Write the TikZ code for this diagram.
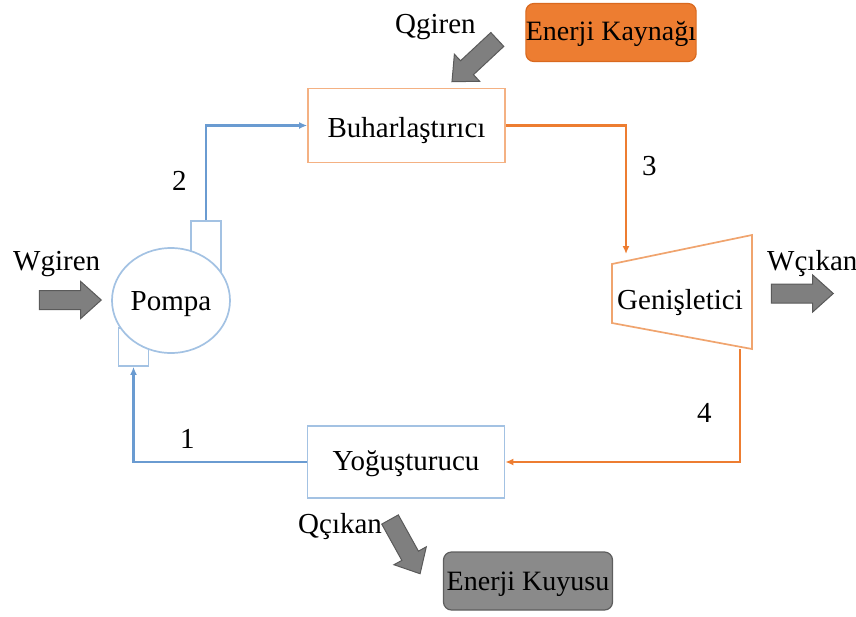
\documentclass[tikz,border=0pt]{standalone}
\usepackage{fontspec}
\setmainfont{Liberation Serif}
\usetikzlibrary{shapes.geometric,shapes.arrows,arrows.meta}

\definecolor{flowblue}{HTML}{6A9BD1}
\definecolor{boxblue}{HTML}{A3C2E3}
\definecolor{floworange}{HTML}{ED7D31}
\definecolor{boxorange}{HTML}{F4B183}
\definecolor{turborange}{HTML}{F0A46E}
\definecolor{sourcefill}{HTML}{ED7D31}
\definecolor{sourceline}{HTML}{D9691F}
\definecolor{sinkfill}{HTML}{8A8A8A}
\definecolor{sinkline}{HTML}{5E5E5E}
\definecolor{arrowfill}{HTML}{7F7F7F}
\definecolor{arrowline}{HTML}{5A5A5A}

\begin{document}
\begin{tikzpicture}[x=1pt,y=-1pt,
  every node/.style={font=\fontsize{29}{31}\selectfont, text height=19pt, text depth=0pt},
  unitbox/.style={draw, line width=1.7pt, fill=white, minimum width=197pt, minimum height=74pt, inner sep=1pt},
  portbox/.style={draw=boxblue, line width=1.7pt, fill=white, minimum width=30pt, inner sep=0pt},
  reservoir/.style={rounded corners=8pt, line width=1.2pt, inner sep=0pt, minimum width=169pt, minimum height=58pt,
    font=\fontsize{28}{30}\selectfont},
  label/.style={anchor=base west, inner sep=0pt},
  bluelink/.style={draw=flowblue, line width=2.2pt},
  orangelink/.style={draw=floworange, line width=2.2pt},
  tipend/.style={-{Latex[length=8pt,width=7pt]}},
  blockarrow/.style={single arrow, fill=arrowfill, draw=arrowline, line width=1pt,
    text height=18pt, text depth=0pt, inner sep=0pt, minimum height=62pt,
    single arrow head extend=9pt, single arrow tip angle=84, single arrow head indent=0pt}
]
\useasboundingbox (0,0) rectangle (856,616);

% pump ports (partly hidden behind the pump body)
\node[portbox, minimum height=54pt] (outlet) at (206,248) {};
\node[portbox, minimum height=38pt] (inlet) at (133.5,347) {};
% pump body
\node[ellipse, draw=boxblue, line width=1.7pt, fill=white, minimum width=118pt, minimum height=105pt, inner sep=0pt] (pump) at (171,300.5) {Pompa};

% evaporator and condenser
\node[unitbox, draw=boxorange, text height=23pt] (evap) at (406.5,125.5) {Buharlaştırıcı};
\node[unitbox, draw=boxblue, minimum height=72pt, text height=16pt] (cond) at (406,462) {Yoğuşturucu};

% expander drawn as a trapezoid
\coordinate (exTL) at (612,264);
\coordinate (exTR) at (752,235);
\coordinate (exBR) at (752,349);
\coordinate (exBL) at (612,323);
\draw[turborange, line width=1.7pt, fill=white] (exTL) -- (exTR) -- (exBR) -- (exBL) -- cycle;
\node (expander) at (680,300) {Genişletici};
\coordinate (exIn) at (626,254);
\coordinate (exOut) at (740,349);

% heat source and heat sink
\node[reservoir, fill=sourcefill, draw=sourceline, text height=15pt] (source) at (611,32.5) {Enerji Kaynağı};
\node[reservoir, fill=sinkfill, draw=sinkline, text height=18pt] (sink) at (528,581) {Enerji Kuyusu};

% working fluid loop
\draw[bluelink, tipend] (outlet.north) |- (evap.west);
\draw[orangelink, tipend] (evap.east) -| (exIn);
\draw[orangelink, tipend] (exOut) |- (cond.east);
\draw[bluelink, tipend] (cond.west) -| (inlet.south);

% state point numbers
\node[label] (s1) at (180,448) {1};
\node[label] (s2) at (172,190) {2};
\node[label] (s3) at (642,175) {3};
\node[label] (s4) at (697,422) {4};

% energy flows
\node[blockarrow] (win) at (65,300) {};
\node[blockarrow] (wout) at (797,293.5) {};
\node[blockarrow, rotate=223] (qin) at (478.5,57) {};
\node[blockarrow, rotate=-61] (qout) at (402.5,542) {};

\node[label] (lwin) at (13,270) {Wgiren};
\node[label] (lwout) at (767,270) {Wçıkan};
\node[label] (lqin) at (395,33) {Qgiren};
\node[label] (lqout) at (298,533) {Qçıkan};
\end{tikzpicture}
\end{document}
